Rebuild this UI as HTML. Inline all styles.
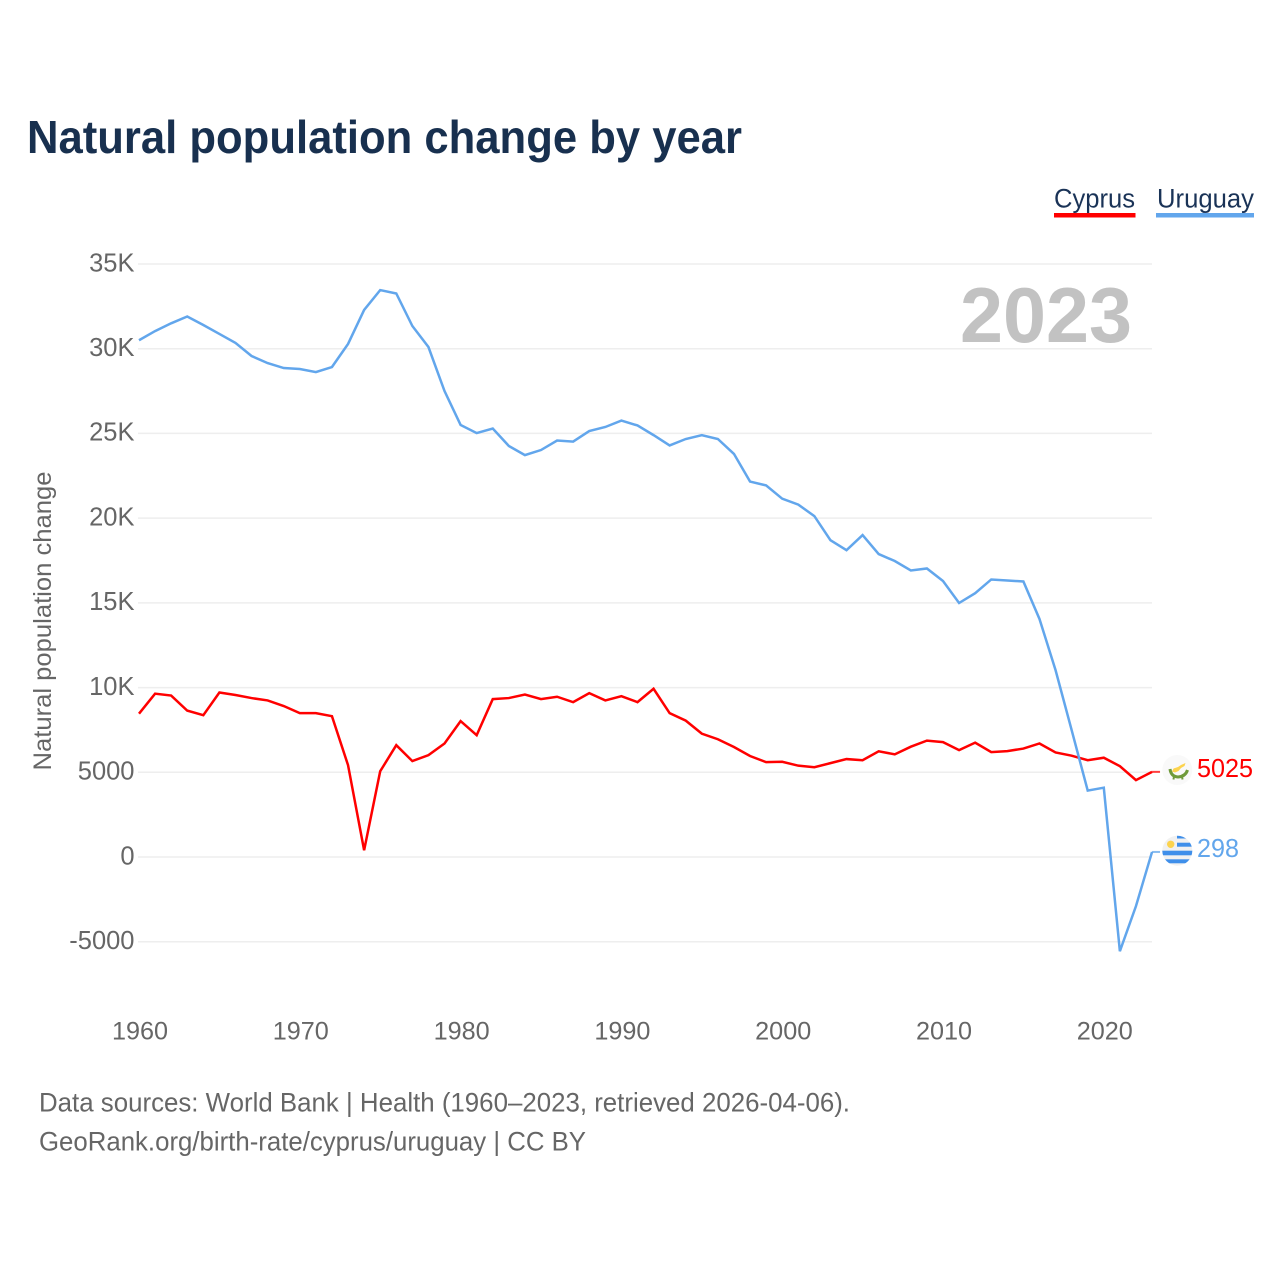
<!DOCTYPE html>
<html lang="en">
<head>
<meta charset="utf-8">
<title>Natural population change by year</title>
<style>
html,body{margin:0;padding:0;background:#fff;width:1280px;height:1280px;overflow:hidden}
svg{display:block;font-family:"Liberation Sans",sans-serif}
</style>
</head>
<body>
<svg id="chart" width="1280" height="1280" viewBox="0 0 1280 1280" xmlns="http://www.w3.org/2000/svg">
  <rect x="0" y="0" width="1280" height="1280" fill="#fff"/>
  <text x="27" y="153" font-size="46" font-weight="700" fill="#18304f" textLength="715" lengthAdjust="spacingAndGlyphs">Natural population change by year</text>
  <g>
    <text x="1054" y="207.5" font-size="27" fill="#1a3357" textLength="81" lengthAdjust="spacingAndGlyphs">Cyprus</text>
    <rect x="1054" y="213" width="81.5" height="4.5" fill="#ff0000"/>
  </g>
  <g>
    <text x="1157" y="207.5" font-size="27" fill="#1a3357" textLength="97" lengthAdjust="spacingAndGlyphs">Uruguay</text>
    <rect x="1156" y="213" width="98" height="4.5" fill="#62a6ec"/>
  </g>
  <g id="grid"></g>
  <g id="yticks"></g>
  <g id="xticks"></g>
  <text transform="translate(51,621) rotate(-90)" text-anchor="middle" font-size="25" fill="#666" textLength="299" lengthAdjust="spacingAndGlyphs">Natural population change</text>
  <text x="960" y="342" font-size="78" font-weight="700" fill="#c2c2c2" textLength="172" lengthAdjust="spacingAndGlyphs">2023</text>
  <g id="series"></g>
  <defs>
    <clipPath id="clip-uy"><circle cx="1177.3" cy="850.7" r="15"/></clipPath>
  </defs>
  <g>
    <circle cx="1177.3" cy="770" r="15" fill="#f9f9f9"/>
    <path d="M1172 771.5 L1173.5 768.5 L1178 767 L1181 765 L1185.5 763 L1184.5 766 L1181 768 L1178.5 771 L1175 772.5 Z" fill="#fcd34d"/>
    <path d="M1170 769 Q1171 776.5 1178 777 Q1185.5 776.5 1187.5 770" fill="none" stroke="#6f9a3a" stroke-width="3"/>
    <path d="M1174 776 L1173.5 779.5 M1182 776 L1182.5 779.5" fill="none" stroke="#6f9a3a" stroke-width="2"/>
  </g>
  <g clip-path="url(#clip-uy)">
    <rect x="1162" y="835" width="31" height="31" fill="#f1f1f1"/>
    <rect x="1177" y="835" width="9" height="3.5" fill="#3f8fea"/>
    <rect x="1177" y="842.7" width="16" height="4" fill="#3f8fea"/>
    <rect x="1162" y="850.7" width="31" height="4.6" fill="#3f8fea"/>
    <rect x="1162" y="859.3" width="31" height="4" fill="#3f8fea"/>
    <circle cx="1170.7" cy="844.3" r="3.7" fill="#fcd34d"/>
  </g>
  <text id="label-cyprus" x="1197" y="777" font-size="26" fill="#ff0000" textLength="56" lengthAdjust="spacingAndGlyphs"></text>
  <text id="label-uruguay" x="1197" y="857" font-size="26" fill="#62a6ec" textLength="42" lengthAdjust="spacingAndGlyphs"></text>
  <text x="39" y="1111.5" font-size="27" fill="#666" textLength="811" lengthAdjust="spacingAndGlyphs">Data sources: World Bank | Health (1960–2023, retrieved 2026-04-06).</text>
  <text x="39" y="1150.5" font-size="27" fill="#666" textLength="547" lengthAdjust="spacingAndGlyphs">GeoRank.org/birth-rate/cyprus/uruguay | CC BY</text>
</svg>
<script>
const startYear = 1960;
const xTickYears = [1960,1970,1980,1990,2000,2010,2020];
const yTickValues = [-5000,0,5000,10000,15000,20000,25000,30000,35000];
const yTickLabels = ['-5000','0','5000','10K','15K','20K','25K','30K','35K'];
const cyprusValues = [8460,9640,9530,8640,8370,9710,9560,9380,9240,8910,8490,8490,8310,5420,400,5060,6600,5660,6010,6700,8020,7190,9320,9380,9590,9320,9460,9140,9670,9240,9490,9140,9930,8490,8050,7280,6950,6490,5960,5600,5620,5390,5300,5540,5780,5710,6240,6060,6510,6870,6780,6310,6750,6190,6250,6400,6700,6170,5980,5710,5860,5360,4540,5025];
const uruguayValues = [30500,31040,31500,31900,31400,30870,30340,29570,29150,28860,28800,28620,28920,30280,32290,33460,33260,31340,30100,27500,25500,25020,25290,24260,23720,24020,24580,24520,25140,25380,25760,25470,24900,24290,24670,24900,24670,23790,22160,21930,21150,20800,20120,18700,18110,19000,17880,17470,16910,17030,16290,14990,15570,16380,16320,16260,14050,11030,7490,3920,4090,-5560,-2900,298];

const NS = 'http://www.w3.org/2000/svg';
function xScale(year){ return 139 + (year - 1960) * 16.08; }
function yScale(value){ return 857 - value * 0.016943; }
function make(tag, parent, attrs, text){
  const el = document.createElementNS(NS, tag);
  for (const k in attrs) el.setAttribute(k, attrs[k]);
  if (text !== undefined) el.textContent = text;
  parent.appendChild(el);
  return el;
}
const grid = document.getElementById('grid');
const yticks = document.getElementById('yticks');
const xticks = document.getElementById('xticks');
const series = document.getElementById('series');

yTickValues.forEach(function(v, i){
  const line = make('line', grid, {x1:138, x2:1152, y1:yScale(v), y2:yScale(v), stroke:'#eeeeee', 'stroke-width':1.5});
  
  
  const t = make('text', yticks, {x:134.5, y:yScale(v)+7.3, 'text-anchor':'end', 'font-size':25.5, fill:'#666'}, yTickLabels[i]);
  
  
});
xTickYears.forEach(function(yr){
  const t = make('text', xticks, {x:xScale(yr)+1, y:1039.5, 'text-anchor':'middle', 'font-size':25.2, fill:'#666'}, String(yr));
  
  
});
function drawSeries(values, color, name){
  const pts = values.map(function(v, i){ return xScale(startYear + i).toFixed(2) + ',' + yScale(v).toFixed(2); }).join(' ');
  const line = make('polyline', series, {points:pts, fill:'none', stroke:color, 'stroke-width':2.5, 'stroke-linejoin':'miter'});
  
  
  const lastX = xScale(startYear + values.length - 1);
  const lastY = yScale(values[values.length - 1]);
  const lead = make('line', series, {x1:lastX, x2:lastX + 8, y1:lastY, y2:lastY, stroke:color, 'stroke-width':2, opacity:0.75});
  
  
}
drawSeries(cyprusValues, '#ff0000', 'line-cyprus');
drawSeries(uruguayValues, '#62a6ec', 'line-uruguay');
document.getElementById('label-cyprus').textContent = String(cyprusValues[cyprusValues.length - 1]);
document.getElementById('label-uruguay').textContent = String(uruguayValues[uruguayValues.length - 1]);
</script>
</body>
</html>
